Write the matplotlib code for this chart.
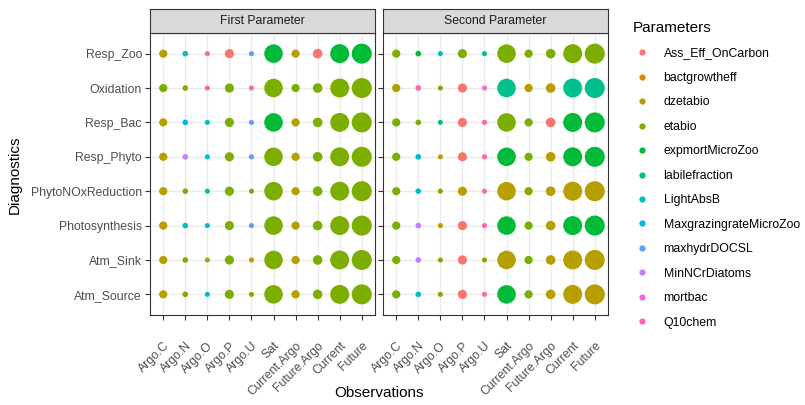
import matplotlib.pyplot as plt
from matplotlib.lines import Line2D
import numpy as np

plt.rcParams['font.family'] = ['Liberation Sans', 'DejaVu Sans']

diagnostics = ["Resp_Zoo", "Oxidation", "Resp_Bac", "Resp_Phyto",
               "PhytoNOxReduction", "Photosynthesis", "Atm_Sink", "Atm_Source"]
observations = ["Argo.C", "Argo.N", "Argo.O", "Argo.P", "Argo.U", "Sat",
                "Current.Argo", "Future.Argo", "Current", "Future"]
facets = ["First Parameter", "Second Parameter"]

parameters = ["Ass_Eff_OnCarbon", "bactgrowtheff", "dzetabio", "etabio",
              "expmortMicroZoo", "labilefraction", "LightAbsB",
              "MaxgrazingrateMicroZoo", "maxhydrDOCSL", "MinNCrDiatoms",
              "mortbac", "Q10chem"]
param_colors = ["#F8766D", "#DE8C00", "#B79F00", "#7CAE00", "#00BA38", "#00C08B",
                "#00BFC4", "#00B4F0", "#619CFF", "#C77CFF", "#F564E3", "#FF64B0"]

# relative weight of each observation set (mapped to point area)
obs_weight = [0.17, 0.08, 0.065, 0.21, 0.065, 0.86, 0.17, 0.23, 0.90, 1.0]

first_param = [
    ["dzetabio", "LightAbsB", "Ass_Eff_OnCarbon", "Ass_Eff_OnCarbon", "maxhydrDOCSL",
     "expmortMicroZoo", "dzetabio", "Ass_Eff_OnCarbon", "expmortMicroZoo", "expmortMicroZoo"],
    ["etabio", "etabio", "Q10chem", "etabio", "Q10chem",
     "etabio", "etabio", "etabio", "etabio", "etabio"],
    ["dzetabio", "MaxgrazingrateMicroZoo", "LightAbsB", "etabio", "maxhydrDOCSL",
     "expmortMicroZoo", "dzetabio", "etabio", "etabio", "etabio"],
    ["dzetabio", "MinNCrDiatoms", "LightAbsB", "etabio", "maxhydrDOCSL",
     "etabio", "dzetabio", "etabio", "etabio", "etabio"],
    ["dzetabio", "etabio", "LightAbsB", "etabio", "etabio",
     "etabio", "dzetabio", "etabio", "etabio", "etabio"],
    ["dzetabio", "LightAbsB", "LightAbsB", "etabio", "maxhydrDOCSL",
     "etabio", "dzetabio", "etabio", "etabio", "etabio"],
    ["dzetabio", "etabio", "dzetabio", "etabio", "bactgrowtheff",
     "etabio", "dzetabio", "etabio", "etabio", "etabio"],
    ["dzetabio", "etabio", "LightAbsB", "etabio", "etabio",
     "etabio", "dzetabio", "etabio", "etabio", "etabio"],
]

second_param = [
    ["etabio", "expmortMicroZoo", "LightAbsB", "etabio", "labilefraction",
     "etabio", "etabio", "etabio", "etabio", "etabio"],
    ["dzetabio", "Q10chem", "etabio", "Ass_Eff_OnCarbon", "mortbac",
     "labilefraction", "dzetabio", "dzetabio", "labilefraction", "labilefraction"],
    ["etabio", "etabio", "labilefraction", "Ass_Eff_OnCarbon", "Q10chem",
     "etabio", "etabio", "Ass_Eff_OnCarbon", "expmortMicroZoo", "expmortMicroZoo"],
    ["etabio", "LightAbsB", "dzetabio", "Ass_Eff_OnCarbon", "Q10chem",
     "expmortMicroZoo", "etabio", "dzetabio", "expmortMicroZoo", "expmortMicroZoo"],
    ["etabio", "LightAbsB", "etabio", "dzetabio", "Q10chem",
     "dzetabio", "etabio", "dzetabio", "dzetabio", "dzetabio"],
    ["etabio", "MinNCrDiatoms", "dzetabio", "Ass_Eff_OnCarbon", "Q10chem",
     "expmortMicroZoo", "etabio", "dzetabio", "expmortMicroZoo", "expmortMicroZoo"],
    ["etabio", "MinNCrDiatoms", "etabio", "Ass_Eff_OnCarbon", "etabio",
     "dzetabio", "etabio", "dzetabio", "dzetabio", "dzetabio"],
    ["etabio", "LightAbsB", "etabio", "Ass_Eff_OnCarbon", "Q10chem",
     "expmortMicroZoo", "etabio", "dzetabio", "dzetabio", "dzetabio"],
]

W, H = 805, 405
fig = plt.figure(figsize=(W / 100, H / 100), dpi=100)

color_of = dict(zip(parameters, param_colors))
x = np.arange(len(observations))
ypos = np.arange(len(diagnostics))[::-1]
max_diam = 20.0  # px for weight 1
grey20 = "#333333"

panels = [(150, 375), (383, 608)]
top, bottom, strip_top = 33, 315, 9

for k, (data, (x0, x1)) in enumerate(zip([first_param, second_param], panels)):
    ax = fig.add_axes([x0 / W, 1 - bottom / H, (x1 - x0) / W, (bottom - top) / H])
    sizes = [(max_diam * np.sqrt(w) * 0.72) ** 2 for w in obs_weight]
    for i, row in enumerate(data):
        cols = [color_of[p] for p in row]
        ax.scatter(x, np.full(len(x), ypos[i]), s=sizes, c=cols,
                   edgecolors='none', zorder=3)
    ax.set_xlim(-0.6, len(observations) - 0.4)
    ax.set_ylim(-0.6, len(diagnostics) - 0.4)
    ax.set_xticks(x)
    ax.set_xticklabels(observations, rotation=45, ha='right', va='top',
                       rotation_mode='anchor', fontsize=8.8, color="#4D4D4D")
    ax.set_yticks(ypos)
    if k == 0:
        ax.set_yticklabels(diagnostics, fontsize=8.8, color="#4D4D4D")
    else:
        ax.set_yticklabels([])
    ax.tick_params(length=3.8, width=0.8, color=grey20, pad=2)
    ax.tick_params(axis='x', pad=14)
    ax.grid(True, color="#EBEBEB", linewidth=1.0, zorder=0)
    ax.set_axisbelow(True)
    for sp in ax.spines.values():
        sp.set_color(grey20)
        sp.set_linewidth(0.8)

    sax = fig.add_axes([x0 / W, 1 - top / H, (x1 - x0) / W, (top - strip_top) / H])
    sax.set_facecolor("#D9D9D9")
    sax.set_xticks([])
    sax.set_yticks([])
    for sp in sax.spines.values():
        sp.set_color(grey20)
        sp.set_linewidth(0.8)
    sax.text(0.5, 0.5, facets[k], ha='center', va='center', fontsize=8.8,
             color="#1A1A1A", transform=sax.transAxes)

fig.text(379 / W, 1 - 393 / H, "Observations", ha='center', va='center', fontsize=11)
fig.text(15 / W, 1 - 175 / H, "Diagnostics", ha='center', va='center',
         rotation=90, fontsize=11)

handles = [Line2D([], [], marker='o', linestyle='none', markersize=4.5,
                  markerfacecolor=c, markeredgecolor='none') for c in param_colors]
leg = fig.legend(handles, parameters, loc='upper left',
                 bbox_to_anchor=(622 / W, 1 - 10 / H), frameon=False,
                 title="Parameters", title_fontsize=11, fontsize=8.8,
                 labelspacing=1.02, handletextpad=1.0, handlelength=1.5,
                 alignment='left')

plt.savefig('out.png', dpi=100)
